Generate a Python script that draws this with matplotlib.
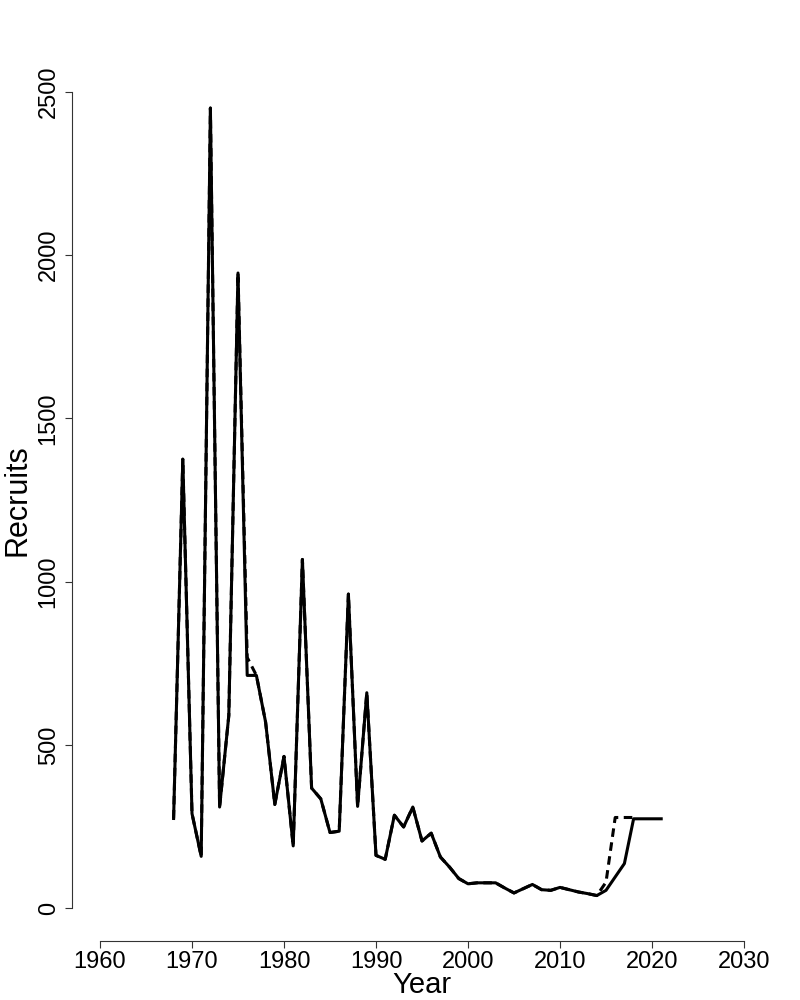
import matplotlib
matplotlib.use("Agg")
import matplotlib.pyplot as plt

plt.rcParams["font.family"] = ["Liberation Sans", "DejaVu Sans"]

# ----------------------------------------------------
# Data
# ----------------------------------------------------

years = list(range(1968, 2022))

recruits = [
    275, 1375, 290, 159, 2450, 310, 590, 1945, 713, 713,
    570, 318, 465, 191, 1068, 368, 335, 232, 236, 962,
    312, 660, 162, 150, 285, 249, 310, 206, 230, 157,
    126, 91, 75, 78, 78, 78, 62, 47, 60, 73,
    57, 55, 64, 57, 50, 45, 39, 55, 96, 137,
    274, 274, 274, 274,
]

# alternative run, same as above except a few years
alt_years = list(range(1968, 2019))
alt_recruits = recruits[:len(alt_years)]
alt_recruits[1976 - 1968] = 768
alt_recruits[2015 - 1968] = 80
alt_recruits[2016 - 1968] = 278
alt_recruits[2017 - 1968] = 278
alt_recruits[2018 - 1968] = 278

x_ticks = [1960, 1970, 1980, 1990, 2000, 2010, 2020, 2030]
y_ticks = [0, 500, 1000, 1500, 2000, 2500]

# ----------------------------------------------------
# Figure
# ----------------------------------------------------

fig = plt.figure(figsize=(8, 10), dpi=100)
ax = fig.add_axes([0.125, 0.0917, 0.805, 0.8166])

ax.plot(alt_years, alt_recruits, color="black", lw=2.2,
        linestyle=(0, (2.8, 1.8)))
ax.plot(years, recruits, color="black", lw=2.2)

ax.set_xlim(1960, 2030)
ax.set_ylim(0, 2500)

# R-style axes
for side in ["top", "right"]:
    ax.spines[side].set_visible(False)
ax.spines["left"].set_position(("outward", 20))
ax.spines["bottom"].set_position(("outward", 23.5))
ax.spines["left"].set_bounds(0, 2500)
ax.spines["bottom"].set_bounds(1960, 2030)
for side in ["left", "bottom"]:
    ax.spines[side].set_linewidth(0.8)
    ax.spines[side].set_color("#333333")

ax.set_xticks(x_ticks)
ax.set_yticks(y_ticks)
ax.tick_params(axis="both", length=5, width=0.8, color="#333333",
               labelsize=17)
ax.tick_params(axis="x", pad=2)
ax.tick_params(axis="y", pad=4)
for lab in ax.get_yticklabels():
    lab.set_rotation(90)
    lab.set_va("center")

ax.set_xlabel("Year", fontsize=21, labelpad=-1)
ax.set_ylabel("Recruits", fontsize=22, labelpad=4)

fig.savefig("out.png", dpi=100)
